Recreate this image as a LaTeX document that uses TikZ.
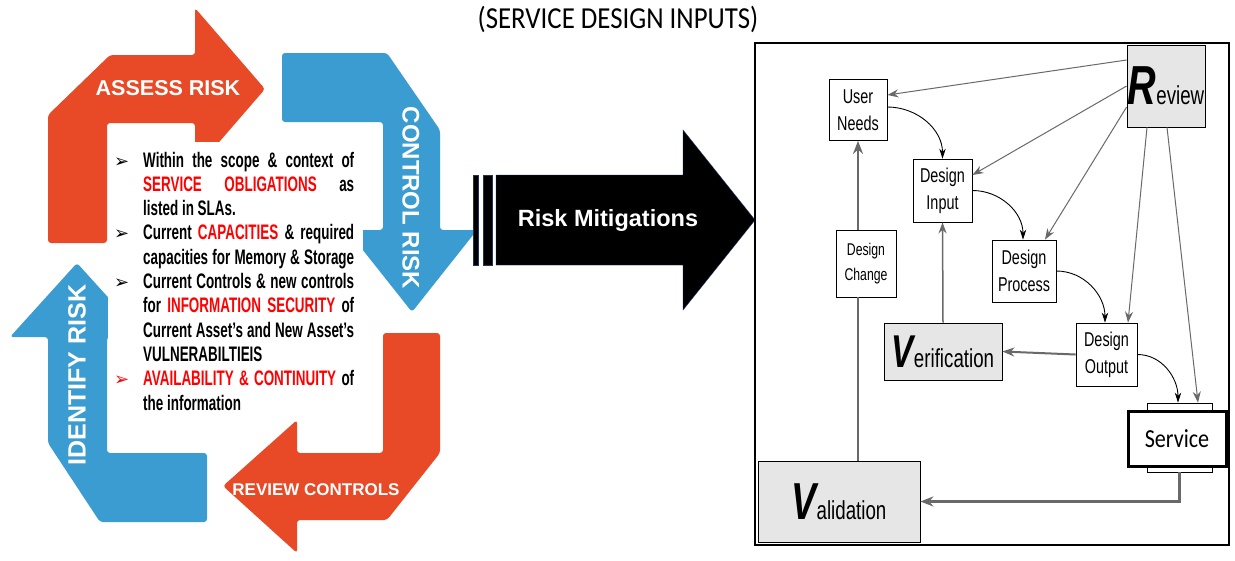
\documentclass[tikz,border=0pt]{standalone}
\usepackage{fontspec}
\setmainfont{Liberation Sans}
\newfontfamily\titlefont[FakeStretch=0.88]{Carlito}
\newfontfamily\servfont[FakeStretch=0.85]{Carlito}
\newfontfamily\narrowfont[FakeStretch=0.72]{Liberation Sans}
\newfontfamily\listfont[FakeStretch=0.64]{Liberation Sans}
\newfontfamily\symfont{DejaVu Sans}
\usetikzlibrary{arrows.meta,positioning}
\definecolor{orng}{RGB}{232,74,39}
\definecolor{skyb}{RGB}{59,156,209}
\definecolor{boxgray}{RGB}{230,230,230}
\definecolor{arrgray}{RGB}{105,105,105}
\definecolor{navy}{RGB}{30,50,100}

% justified line of the list and its bullet
\newcommand{\jline}[1]{\makebox[211pt][s]{\spaceskip=0pt\xspaceskip=0pt #1}}
\newcommand{\lbul}[1][black]{\leavevmode\llap{\textcolor{#1}{\symfont\fontsize{18}{18}\selectfont ➢}\hspace{14pt}}}
% big initial letter for the V&V boxes
\newcommand{\bigini}[3]{{\fontsize{#1}{#1}\selectfont\bfseries\itshape #2}{\fontsize{26}{26}\selectfont #3}}

\begin{document}
\begin{tikzpicture}[x=1pt,y=-1pt,
    cyclbl/.style={text=white, font=\bfseries},
    listtxt/.style={align=left, text width=211pt, inner sep=0pt, font={\listfont\bfseries\fontsize{21}{24.3}\selectfont}},
    plainbox/.style={rectangle, draw, thick, fill=white, inner sep=0pt, align=center, font={\narrowfont\fontsize{20}{27}\selectfont}},
    graybox/.style={plainbox, fill=boxgray},
    thinarr/.style={draw=arrgray, line width=1pt, -{Stealth[length=11pt,width=8pt]}},
    flowarr/.style={black, line width=0.9pt, -{Stealth[length=10pt,width=6.5pt]}},
    fatarr/.style={draw=arrgray, line width=2.5pt, -{Stealth[length=13pt,width=10pt]}}
]
    \useasboundingbox[fill=white] (0,0) rectangle (1235,560);

    % Cycle of four bent arrows
    \fill[orng, rounded corners=3pt] (48,243) -- (48,115) -- (110,55) -- (195,55) -- (195,8)
        -- (265,89) -- (195,170) -- (195,123) -- (107,123) -- (107,243) -- cycle;
    \fill[skyb, rounded corners=3pt] (282,53) -- (387,53) -- (440,130) -- (440,230) -- (477,230)
        -- (412,312) -- (347,230) -- (383,230) -- (383,122) -- (282,122) -- cycle;
    \fill[orng, rounded corners=3pt] (383,333) -- (440,333) -- (440,453) -- (387,520) -- (297,520)
        -- (297,553) -- (223,486) -- (297,420) -- (297,453) -- (383,453) -- cycle;
    \fill[skyb, rounded corners=3pt] (207,453) -- (207,522) -- (100,522) -- (48,443) -- (48,337)
        -- (10,337) -- (77,263) -- (144,337) -- (107,337) -- (107,453) -- cycle;

    \node[cyclbl, font=\bfseries\fontsize{21.5}{21.5}\selectfont] (assess) at (168,88) {ASSESS RISK};
    \node[cyclbl, font=\bfseries\fontsize{24}{24}\selectfont, rotate=-90] (control) at (411,198) {CONTROL RISK};
    \node[cyclbl, font=\bfseries\fontsize{25}{25}\selectfont, rotate=90] (identify) at (77,375) {IDENTIFY RISK};
    \node[cyclbl, font=\bfseries\fontsize{17}{17}\selectfont] (reviewc) at (316,490) {REVIEW CONTROLS};

    % List in the middle
    \fill[white] (108,142) rectangle (363,420);
    \node[listtxt, anchor=base west] (lst) at (143,167) {%
        \spaceskip=0pt\xspaceskip=0pt
        \lbul\jline{Within the scope \& context of}\\
        \jline{\textcolor{red}{SERVICE OBLIGATIONS} as}\\
        listed in SLAs.\\
        \lbul\jline{Current \textcolor{red}{CAPACITIES} \& required}\\
        \jline{capacities for Memory \& Storage}\\
        \lbul\jline{Current Controls \& new controls}\\
        \jline{for \textcolor{red}{INFORMATION SECURITY} of}\\
        \jline{Current Asset’s and New Asset’s}\\
        VULNERABILTIEIS\\
        \lbul[red]\jline{\textcolor{red}{AVAILABILITY \& CONTINUITY} of}\\
        the information};

    % Heading
    \node[font={\titlefont\fontsize{30.5}{30.5}\selectfont}] (title) at (618,19) {(SERVICE DESIGN INPUTS)};

    % Big black arrow
    \fill[black, draw=navy] (473,175) rectangle (478,265);
    \fill[black, draw=navy] (483,175) rectangle (492,265);
    \fill[black, draw=navy] (496,175) -- (683,175) -- (683,130) -- (755,220) -- (683,310)
        -- (683,265) -- (496,265) -- cycle;
    \node[text=white, font=\bfseries\fontsize{23.5}{23.5}\selectfont] (mitig) at (608,220) {Risk Mitigations};

    % Design control panel
    \draw[line width=2pt] (755,43) rectangle (1229,545);

    \node[plainbox, minimum width=58pt, minimum height=61pt] (usr) at (858,110) {User\\Needs};
    \node[graybox, minimum width=78pt, minimum height=82pt] (rev) at (1166,86)
        {\bigini{55}{R}{eview}};
    \node[plainbox, minimum width=59pt, minimum height=63pt] (din) at (942.5,190.5) {Design\\Input};
    \node[plainbox, minimum width=60pt, minimum height=67pt, font={\narrowfont\fontsize{17}{25}\selectfont}]
        (dchg) at (866,263.5) {Design\\Change};
    \node[plainbox, minimum width=64pt, minimum height=62pt] (dproc) at (1024,271) {Design\\Process};
    \node[graybox, minimum width=118pt, minimum height=57pt] (verif) at (943,351.5)
        {\bigini{46}{V}{erification}};
    \node[plainbox, minimum width=61pt, minimum height=63pt] (dout) at (1106.5,354.5) {Design\\Output};
    \node[plainbox, minimum width=65pt, minimum height=69pt] (servback) at (1179.5,437.5) {};
    \node[plainbox, line width=3pt, minimum width=98pt, minimum height=55pt, font={\servfont\fontsize{26}{26}\selectfont}]
        (serv) at (1177,438.5) {Service};
    \node[graybox, minimum width=162pt, minimum height=81pt] (valid) at (839,501.5)
        {\bigini{52}{V}{alidation}};

    % Review feeds every stage
    \draw[thinarr] ([yshift=26pt]rev.west) -- ([yshift=15pt]usr.east);
    \draw[thinarr] (rev.west) -- ([yshift=15.5pt]din.east);
    \draw[thinarr] ([yshift=-21pt]rev.west) -- ([xshift=21pt]dproc.north);
    \draw[thinarr] ([xshift=-19pt]rev.south) -- ([xshift=21.5pt]dout.north);
    \draw[thinarr] ([xshift=1pt]rev.south) -- ([xshift=18.5pt]servback.north);

    % Design flow
    \draw[flowarr] ([yshift=3pt]usr.east) to[out=0, in=90] (din.north);
    \draw[flowarr] (din.east) to[out=0, in=90] ([xshift=-1pt]dproc.north);
    \draw[flowarr] (dproc.east) to[out=0, in=90] ([xshift=-1.5pt]dout.north);
    \draw[flowarr] (dout.east) to[out=0, in=90] ([xshift=-1.5pt]servback.north);

    % Verification and validation loops
    \draw[draw=arrgray, line width=2pt, -{Stealth[length=12pt,width=9pt]}] (dout.west) -- (verif.east);
    \draw[draw=arrgray, line width=1.5pt, -{Stealth[length=11pt,width=8pt]}] (verif.north) -- (din.south);
    \draw[draw=arrgray, line width=2.5pt] (usr.south |- valid.north) -- (usr.south |- dchg.south);
    \draw[fatarr] (usr.south |- dchg.north) -- (usr.south);
    \draw[fatarr] (servback.south) |- (valid.east);
\end{tikzpicture}
\end{document}
